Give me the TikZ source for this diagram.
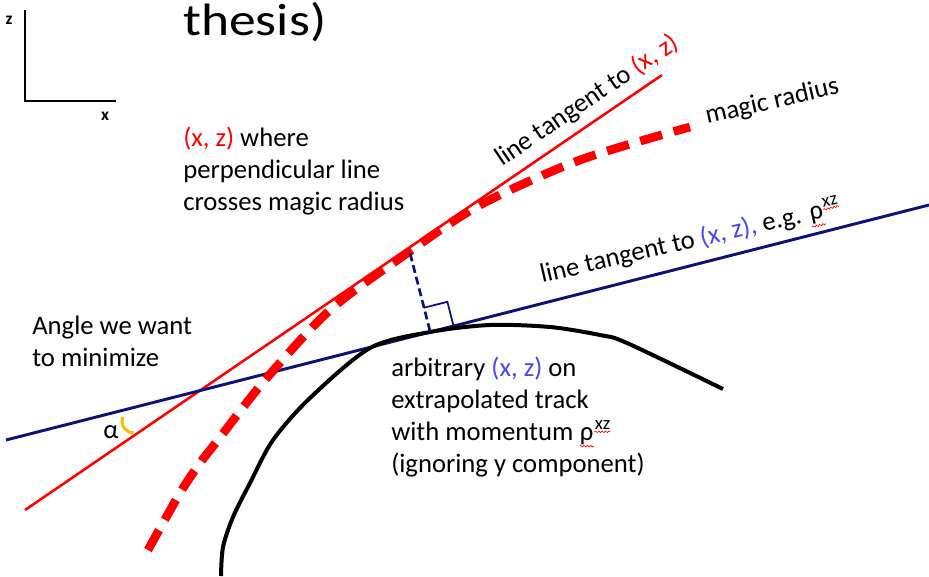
\documentclass[tikz,border=0pt]{standalone}
\usepackage{fontspec}
\setmainfont{Carlito}
\usetikzlibrary{calc,decorations.pathmorphing}
\definecolor{trackblue}{RGB}{12,18,120}
\definecolor{xzblue}{RGB}{70,70,245}
\definecolor{anglegold}{RGB}{255,190,0}
\newcommand{\xzred}{\textcolor{red}{(x, z)}}
\newcommand{\squig}[1]{\tikz[baseline=(w.base)]{\node[inner sep=0pt] (w) {#1};
  \draw[red, line width=0.5pt, decorate, decoration={snake, amplitude=0.6pt, segment length=2.5pt}] ([yshift=-1.2pt]w.south west) -- ([yshift=-1.2pt]w.south east);}}

\begin{document}
\begin{tikzpicture}[x=0.75pt, y=-0.75pt,
    txt/.style={inner sep=0pt, align=left, font=\fontsize{20}{24}\selectfont},
    axis/.style={inner sep=0pt, font=\fontsize{13}{15}\selectfont\bfseries},
    tangent/.style={red, line width=1.9pt},
    trackline/.style={trackblue, line width=2.2pt},
    magic/.style={red, line width=6.5pt, dash pattern=on 17pt off 9pt},
    track/.style={black, line width=3pt},
    perp/.style={trackblue, line width=2pt, dash pattern=on 6pt off 3pt}
]
\useasboundingbox (0,0) rectangle (929,576);

% axes and title remnant
\coordinate (ztop) at (25,10);
\coordinate (origin) at (25,101);
\coordinate (xend) at (116,101);
\draw[line width=1.6pt] (ztop) -- (origin) -- (xend);
\node[axis] (zlab) at (9,20) {z};
\node[axis] (xlab) at (105,116) {x};
\node[anchor=base west, inner sep=0pt, font=\fontsize{34}{38}\selectfont, xscale=1.18] (title) at (183,35) {thesis)};

% straight lines
\coordinate (redA) at (25,510);
\coordinate (redB) at (662,75);
\coordinate (blueA) at (6,440);
\coordinate (blueB) at (929,205);
\draw[tangent] (redA) -- (redB);
\draw[trackline] (blueA) -- (blueB);

% magic radius and track
\draw[magic] plot[smooth] coordinates {(148,550) (180,493) (200,463) (218,440) (265,380) (330,310) (406,254) (480,205) (580,160) (690,127)};
\draw[track] plot[smooth] coordinates {(221,576) (223,547) (233,517) (250,483) (273,440) (310,398) (370,348) (430,332) (490,325) (550,327) (600,335) (627,343) (723,389)};

% perpendicular with right angle
\coordinate (foot) at (430,331);
\coordinate (hit) at (410,253);
\draw[perp] (foot) -- (hit);
\draw[trackblue, line width=1.3pt] (foot) ++(23.3,-5.9) -- ++(-5.9,-23.3) -- ++(-23.3,5.9);

% angle alpha
\coordinate (bend) at (134,421);
\draw[anglegold, line width=2.2pt] ($(bend)+(200:12)$) arc[start angle=200, end angle=92, radius=12];
\node[txt] (alpha) at (111,432) {α};

% labels
\node[txt, anchor=base west] (perpnote) at (183,210) {\xzred{} where\\perpendicular line\\crosses magic radius};
\node[txt, anchor=base west] (anglenote) at (32,366) {Angle we want\\to minimize};
\node[txt, anchor=base west] (tracknote) at (391,472) {arbitrary \textcolor{xzblue}{(x, z)} on\\extrapolated track\\with momentum \squig{ρ}\textsuperscript{\squig{xz}}\\(ignoring y component)};
\node[txt, anchor=base west, rotate=34] (redlab) at (502,167) {line tangent to \xzred};
\node[txt, anchor=base west, rotate=13] (magiclab) at (707,124) {magic radius};
\node[txt, anchor=base west, rotate=13] (bluelab) at (542,283) {line tangent to \textcolor{xzblue}{(x, z),} e.g. \squig{ρ}\textsuperscript{\squig{xz}}};

\end{tikzpicture}
\end{document}
